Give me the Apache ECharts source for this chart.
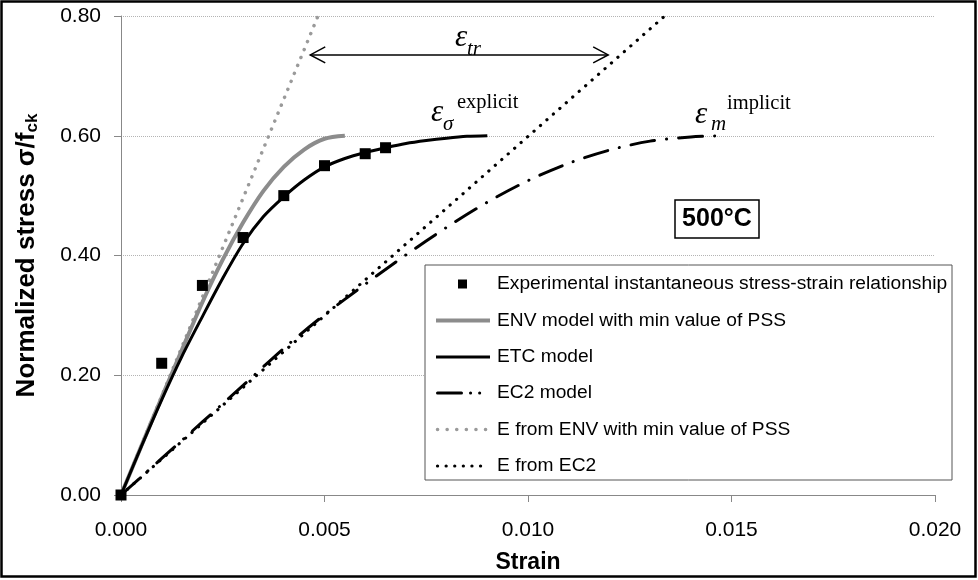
<!DOCTYPE html>
<html>
<head>
<meta charset="utf-8">
<title>Stress-strain 500°C</title>
<script src="https://cdn.jsdelivr.net/npm/echarts@6.0.0/dist/echarts.min.js"></script>
<style>
  html, body { margin: 0; padding: 0; background: #fff; }
  #chart { width: 978px; height: 580px; }
</style>
</head>
<body>
<div id="chart"></div>
<script>
  // experimental points
  const expStrain = [0, 0.001, 0.002, 0.003, 0.004, 0.005, 0.006, 0.0065];
  const expStress = [0, 0.22, 0.35, 0.43, 0.50, 0.55, 0.57, 0.58];

  // ENV model with min value of PSS
  const envStrain = [0, 0.0005, 0.001, 0.0015, 0.002, 0.0025, 0.003, 0.0035, 0.004, 0.0045, 0.005, 0.0055];
  const envStress = [0, 0.082, 0.163, 0.243, 0.322, 0.393, 0.455, 0.508, 0.548, 0.577, 0.595, 0.600];

  // ETC model
  const etcStrain = [0, 0.0005, 0.001, 0.0015, 0.002, 0.0025, 0.003, 0.0035, 0.004, 0.0045,
                     0.005, 0.0055, 0.006, 0.0065, 0.007, 0.0075, 0.008, 0.0085, 0.009];
  const etcStress = [0, 0.081, 0.159, 0.232, 0.298, 0.362, 0.420, 0.465, 0.498, 0.526,
                     0.548, 0.562, 0.572, 0.580, 0.587, 0.592, 0.596, 0.599, 0.600];

  // EC2 model
  const ec2Strain = [0, 0.001, 0.002, 0.003, 0.004, 0.005, 0.006, 0.007, 0.008, 0.009,
                     0.010, 0.011, 0.012, 0.013, 0.014, 0.0148];
  const ec2Stress = [0, 0.061, 0.122, 0.183, 0.245, 0.301, 0.352, 0.401, 0.447, 0.489,
                     0.525, 0.554, 0.576, 0.591, 0.598, 0.600];

  // initial moduli
  const eEnvStrain = [0, 0.00484];
  const eEnvStress = [0, 0.80];
  const eEc2Strain = [0, 0.01336];
  const eEc2Stress = [0, 0.80];

  const xTicks = [0, 0.005, 0.010, 0.015, 0.020];
  const yTicks = [0, 0.2, 0.4, 0.6, 0.8];

  const names = [
    'Experimental instantaneous stress-strain relationship',
    'ENV model with min value of PSS',
    'ETC model',
    'EC2 model',
    'E from ENV with min value of PSS',
    'E from EC2'
  ];

  function pairs(xs, ys) {
    return xs.map(function (x, i) { return [x, ys[i]]; });
  }

  const FONT = 'Arial, "Liberation Sans", sans-serif';
  const SERIF = '"Times New Roman", "Liberation Serif", serif';

  const chart = echarts.init(document.getElementById('chart'));

  const option = {
    animation: false,
    backgroundColor: '#fff',
    grid: { left: 121, right: 43, top: 16, bottom: 85 },
    xAxis: {
      type: 'value',
      min: xTicks[0],
      max: xTicks[xTicks.length - 1],
      interval: 0.005,
      name: 'Strain',
      nameLocation: 'middle',
      nameGap: 56,
      nameTextStyle: { fontFamily: FONT, fontSize: 23, fontWeight: 'bold', color: '#000' },
      axisLine: { lineStyle: { color: '#888', width: 1 } },
      axisTick: { show: true, inside: false, length: 7, lineStyle: { color: '#888' } },
      axisLabel: {
        margin: 25, fontFamily: FONT, fontSize: 21, color: '#000',
        formatter: function (v) { return v.toFixed(3); }
      },
      splitLine: { show: false }
    },
    yAxis: {
      type: 'value',
      min: yTicks[0],
      max: yTicks[yTicks.length - 1],
      interval: 0.2,
      name: 'Normalized stress σ/f{sub|ck}',
      nameLocation: 'middle',
      nameGap: 80,
      nameTextStyle: {
        fontFamily: FONT, fontSize: 26, fontWeight: 'bold', color: '#000',
        rich: { sub: { fontFamily: FONT, fontSize: 17, fontWeight: 'bold', color: '#000', padding: [11, 0, 0, 0] } }
      },
      axisLine: { show: true, lineStyle: { color: '#888', width: 1 } },
      axisTick: { show: true, inside: false, length: 7, lineStyle: { color: '#888' } },
      axisLabel: {
        margin: 20, fontFamily: FONT, fontSize: 21, color: '#000',
        formatter: function (v) { return v.toFixed(2); }
      },
      splitLine: { show: true, lineStyle: { color: '#b4b4b4', width: 1, type: [1, 1] } }
    },
    series: [
      {
        name: names[5], type: 'line', data: pairs(eEc2Strain, eEc2Stress),
        symbol: 'none', z: 2,
        lineStyle: { color: '#000', width: 3.2, type: [0.1, 8.5], cap: 'round' }
      },
      {
        name: names[4], type: 'line', data: pairs(eEnvStrain, eEnvStress),
        symbol: 'none', z: 2,
        lineStyle: { color: '#9a9a9a', width: 3.5, type: [0.1, 8.5], cap: 'round' }
      },
      {
        name: names[3], type: 'line', data: pairs(ec2Strain, ec2Stress),
        symbol: 'none', smooth: 0.3, z: 3,
        lineStyle: { color: '#000', width: 3, type: [24, 12, 0.1, 12], cap: 'round' }
      },
      {
        name: names[1], type: 'line', data: pairs(envStrain, envStress),
        symbol: 'none', smooth: 0.3, z: 3,
        lineStyle: { color: '#8c8c8c', width: 4 }
      },
      {
        name: names[2], type: 'line', data: pairs(etcStrain, etcStress),
        symbol: 'none', smooth: 0.3, z: 4,
        lineStyle: { color: '#000', width: 3 }
      },
      {
        name: names[0], type: 'scatter', data: pairs(expStrain, expStress),
        symbol: 'rect', symbolSize: 11, z: 5,
        itemStyle: { color: '#000', opacity: 1 }
      }
    ]
  };

  chart.setOption(option);

  // annotation arrow (epsilon_tr) in data coordinates
  const arrowY = 0.735;
  const pL = chart.convertToPixel({ gridIndex: 0 }, [0.00465, arrowY]);
  const pR = chart.convertToPixel({ gridIndex: 0 }, [0.01197, arrowY]);

  // legend drawn as graphic block
  const lgX = 425, lgY = 265, lgW = 527, lgH = 215;
  const rowY = [284, 320.5, 357, 393, 429.5, 466];
  const sx0 = 436, sx1 = 490, tx = 497;
  const legend = [
    { type: 'rect', shape: { x: lgX, y: lgY, width: lgW, height: lgH },
      style: { fill: '#fff', stroke: '#555', lineWidth: 1 }, z: 10 },
    { type: 'rect', shape: { x: 458, y: rowY[0] - 4.5, width: 9, height: 9 },
      style: { fill: '#000' }, z: 11 },
    { type: 'line', shape: { x1: sx0, y1: rowY[1], x2: sx1, y2: rowY[1] },
      style: { stroke: '#8c8c8c', lineWidth: 4 }, z: 11 },
    { type: 'line', shape: { x1: sx0, y1: rowY[2], x2: sx1, y2: rowY[2] },
      style: { stroke: '#000', lineWidth: 3 }, z: 11 },
    { type: 'line', shape: { x1: sx0 + 1.5, y1: rowY[3], x2: sx1, y2: rowY[3] },
      style: { stroke: '#000', lineWidth: 3, lineDash: [24, 9, 0.1, 9, 0.1, 40], lineCap: 'round' }, z: 11 },
    { type: 'line', shape: { x1: sx0 + 1.5, y1: rowY[4], x2: sx1, y2: rowY[4] },
      style: { stroke: '#9a9a9a', lineWidth: 3.5, lineDash: [0.1, 9.5], lineCap: 'round' }, z: 11 },
    { type: 'line', shape: { x1: sx0 + 1.5, y1: rowY[5], x2: sx1 - 8, y2: rowY[5] },
      style: { stroke: '#000', lineWidth: 3.2, lineDash: [0.1, 8.5], lineCap: 'round' }, z: 11 }
  ];
  names.forEach(function (n, i) {
    legend.push({
      type: 'text', x: tx, y: rowY[i], z: 11,
      style: { text: n, fontFamily: FONT, fontSize: 19.2, fill: '#000', verticalAlign: 'middle' }
    });
  });

  const notes = [
    // arrow
    { type: 'line', shape: { x1: pL[0], y1: pL[1], x2: pR[0], y2: pR[1] },
      style: { stroke: '#000', lineWidth: 1.5 }, z: 6 },
    { type: 'polyline', shape: { points: [[pL[0] + 15, pL[1] - 8], [pL[0], pL[1]], [pL[0] + 15, pL[1] + 8]] },
      style: { stroke: '#000', lineWidth: 1.5, fill: null }, z: 6 },
    { type: 'polyline', shape: { points: [[pR[0] - 15, pR[1] - 8], [pR[0], pR[1]], [pR[0] - 15, pR[1] + 8]] },
      style: { stroke: '#000', lineWidth: 1.5, fill: null }, z: 6 },
    { type: 'text', x: 455, y: 38, z: 6,
      style: { text: 'ε', fontFamily: SERIF, fontStyle: 'italic', fontSize: 31, fill: '#000', verticalAlign: 'middle' } },
    { type: 'text', x: 467, y: 49, z: 6,
      style: { text: 'tr', fontFamily: SERIF, fontStyle: 'italic', fontSize: 21, fill: '#000', verticalAlign: 'middle' } },
    // epsilon sigma explicit
    { type: 'text', x: 431, y: 113, z: 6,
      style: { text: 'ε', fontFamily: SERIF, fontStyle: 'italic', fontSize: 31, fill: '#000', verticalAlign: 'middle' } },
    { type: 'text', x: 443, y: 124, z: 6,
      style: { text: 'σ', fontFamily: SERIF, fontStyle: 'italic', fontSize: 21, fill: '#000', verticalAlign: 'middle' } },
    { type: 'text', x: 457, y: 103, z: 6,
      style: { text: 'explicit', fontFamily: SERIF, fontSize: 20.5, fill: '#000', verticalAlign: 'middle' } },
    // epsilon m implicit
    { type: 'text', x: 695, y: 115, z: 6,
      style: { text: 'ε', fontFamily: SERIF, fontStyle: 'italic', fontSize: 31, fill: '#000', verticalAlign: 'middle' } },
    { type: 'text', x: 711, y: 124, z: 6,
      style: { text: 'm', fontFamily: SERIF, fontStyle: 'italic', fontSize: 21, fill: '#000', verticalAlign: 'middle' } },
    { type: 'text', x: 727, y: 104, z: 6,
      style: { text: 'implicit', fontFamily: SERIF, fontSize: 20.5, fill: '#000', verticalAlign: 'middle' } },
    // temperature box
    { type: 'rect', shape: { x: 675, y: 200, width: 84, height: 38 },
      style: { fill: '#fff', stroke: '#000', lineWidth: 1.5 }, z: 6 },
    { type: 'text', x: 717, y: 219.5, z: 7,
      style: { text: '500°C', fontFamily: FONT, fontSize: 25, fontWeight: 'bold', fill: '#000',
               align: 'center', verticalAlign: 'middle' } },
    // outer frame
    { type: 'rect', shape: { x: 1.5, y: 1.5, width: 974, height: 575 },
      style: { fill: null, stroke: '#000', lineWidth: 2.5 }, z: 20 }
  ];

  chart.setOption({ graphic: legend.concat(notes) });
</script>
</body>
</html>
